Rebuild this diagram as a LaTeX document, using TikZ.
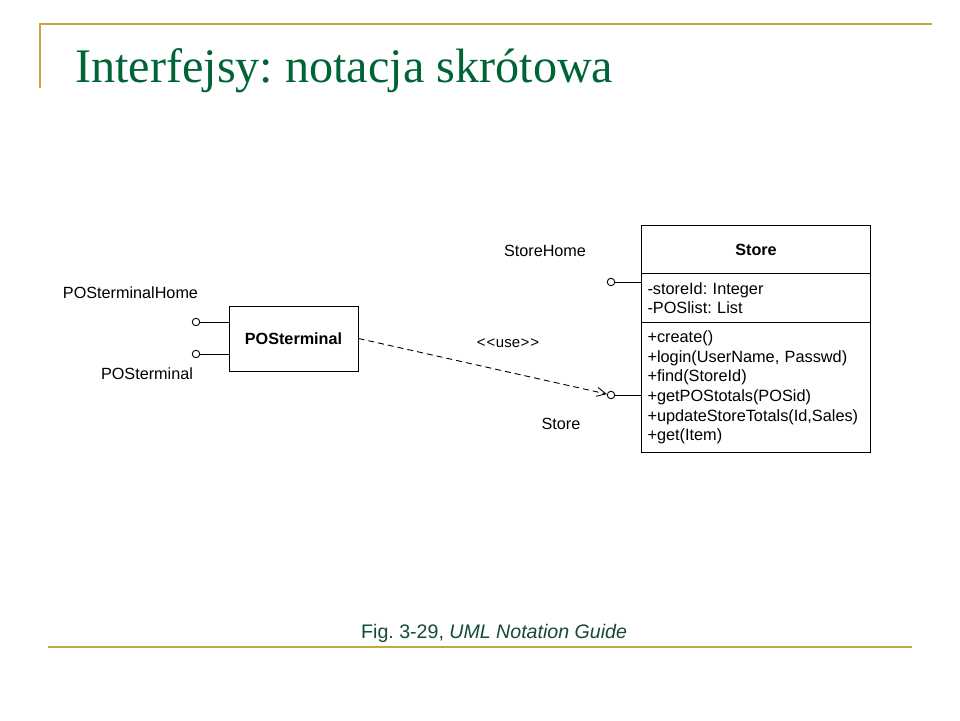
\documentclass[tikz,border=0pt]{standalone}
\usepackage{fontspec}
\setmainfont{Liberation Sans}
\newfontfamily\titlefont{Liberation Serif}
\usetikzlibrary{arrows.meta}
\definecolor{gold}{RGB}{196,168,60}
\definecolor{titlegreen}{RGB}{0,100,55}
\definecolor{capgreen}{RGB}{20,75,50}
\begin{document}
\frenchspacing
\begin{tikzpicture}[x=1pt,y=-1pt,
  lbl/.style={font=\fontsize{16.2}{19.6}\selectfont, inner sep=0pt},
  umlbox/.style={draw, line width=1pt, inner xsep=6pt, inner ysep=0pt, anchor=north west,
     font=\fontsize{16.3}{19.6}\selectfont},
  lolly/.style={circle, draw, line width=0.9pt, minimum size=7.5pt, inner sep=0pt, fill=white},
  conn/.style={line width=1pt},
  rule/.style={gold, line width=2pt}]
\useasboundingbox[fill=white] (0,0) rectangle (960,720);
% frame lines
\draw[rule] (40,88) -- (40,24) -- (932,24);
\draw[rule] (48,647) -- (912,647);
% title
\node[anchor=base west, text=titlegreen, font=\titlefont\fontsize{48.2}{50}\selectfont, inner sep=0pt] (title) at (75,82) {Interfejsy: notacja skrótowa};
% caption
\node[anchor=base west, text=capgreen, font=\fontsize{19.6}{22}\selectfont, inner sep=0pt] (caption) at (361,638) {Fig. 3-29, \textit{UML Notation Guide}};
% POSterminal class
\node[draw, line width=1pt, minimum width=129pt, minimum height=65pt, inner sep=0pt,
      font=\fontsize{16.2}{19}\selectfont\bfseries] (post) at (293.5,338.5) {POSterminal};
% Store class
\node[umlbox, minimum height=48pt, text width=217pt, align=center, font=\fontsize{16.2}{19}\selectfont\bfseries] (sname) at (641,225) {Store};
\node[umlbox, minimum height=49pt, text width=217pt, align=left] (sattr) at (641,273) {-storeId: Integer\\-POSlist: List};
\node[umlbox, minimum height=130pt, text width=217pt, align=left] (sops) at (641,322)
  {+create()\\+login(UserName, Passwd)\\+find(StoreId)\\+getPOStotals(POSid)\\+updateStoreTotals(Id,Sales)\\+get(Item)};
% lollipops
\node[lolly] (c1) at (196,322) {};
\node[lolly] (c2) at (196,354) {};
\node[lolly] (c3) at (611,282) {};
\node[lolly] (c4) at (611,395) {};
\draw[conn] (c1) -- (c1 -| post.west);
\draw[conn] (c2) -- (c2 -| post.west);
\draw[conn] (c3) -- (c3 -| sattr.west);
\draw[conn] (c4) -- (c4 -| sops.west);
% labels
\node[lbl] (lh) at (130.5,293) {POSterminalHome};
\node[lbl] (lp) at (147,374) {POSterminal};
\node[lbl] (sh) at (545,251) {StoreHome};
\node[lbl] (sl) at (561,424) {Store};
\node[lbl, font=\fontsize{15}{17}\selectfont] (use) at (508,343) {<\kern1pt<\kern0.5pt use\kern0.5pt>\kern1pt>};
% dependency
\draw[line width=0.9pt, dash pattern=on 6pt off 4pt, -{Straight Barb[length=9pt,width=9pt]}] (post.east) -- (c4);
\end{tikzpicture}
\end{document}
